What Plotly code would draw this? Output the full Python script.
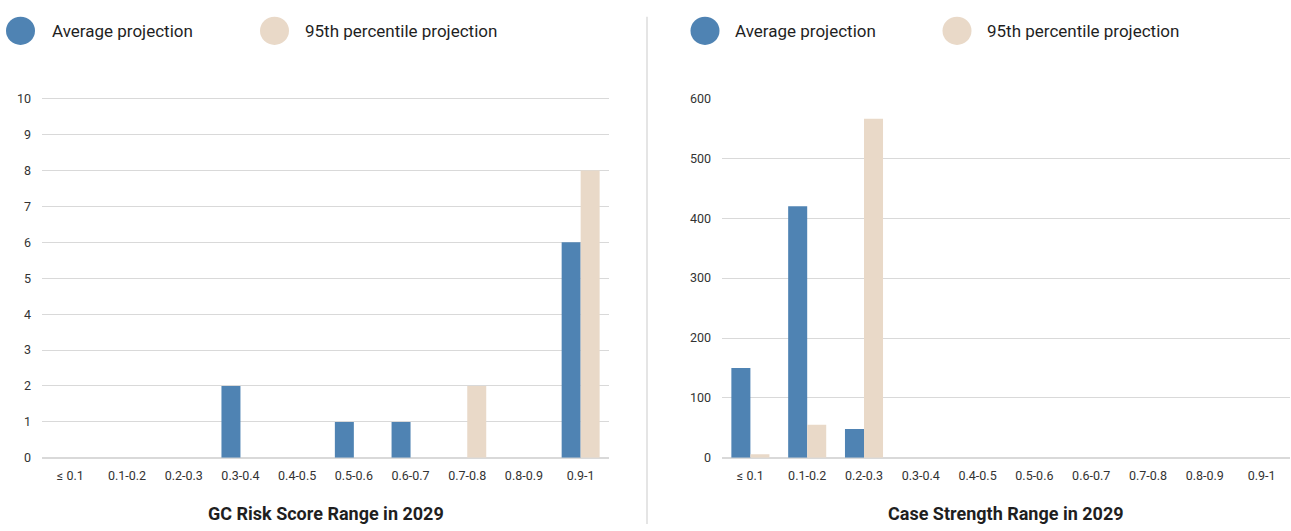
import plotly.graph_objects as go

# Bucket labels shared by both panels
categories = ["≤ 0.1", "0.1-0.2", "0.2-0.3", "0.3-0.4", "0.4-0.5",
              "0.5-0.6", "0.6-0.7", "0.7-0.8", "0.8-0.9", "0.9-1"]

# GC risk score distribution
risk_avg = [0, 0, 0, 2, 0, 1, 1, 0, 0, 6]
risk_p95 = [0, 0, 0, 0, 0, 0, 0, 2, 0, 8]

# Case strength distribution
strength_avg = [150, 420, 48, 0, 0, 0, 0, 0, 0, 0]
strength_p95 = [6, 55, 566, 0, 0, 0, 0, 0, 0, 0]

series_names = ["Average projection", "95th percentile projection"]

BLUE = "#4f83b3"
BEIGE = "#e9d9c8"
GRID = "#d9d9d9"
TEXT = "#1f1f1f"
FONT = "Roboto, Inter, Arial, sans-serif"

W, H = 1291, 531


def px_x(x):
    return x / W


def px_y(y):
    return 1 - y / H


fig = go.Figure()

for name, vals, color in [(series_names[0], risk_avg, BLUE),
                          (series_names[1], risk_p95, BEIGE)]:
    fig.add_trace(go.Bar(x=categories, y=vals, name=name, marker_color=color,
                         marker_line_width=0, xaxis="x", yaxis="y",
                         showlegend=False))

for name, vals, color in [(series_names[0], strength_avg, BLUE),
                          (series_names[1], strength_p95, BEIGE)]:
    fig.add_trace(go.Bar(x=categories, y=vals, name=name, marker_color=color,
                         marker_line_width=0, xaxis="x2", yaxis="y2",
                         showlegend=False))

y_dom = [px_y(463), px_y(93)]

common_x = dict(type="category", showgrid=False, zeroline=False, showline=False,
                ticks="", ticklabelstandoff=9,
                tickfont=dict(family=FONT, size=12.5, color="#333333"))
common_y = dict(showgrid=True, gridcolor=GRID, gridwidth=1, zeroline=True,
                zerolinecolor=GRID, zerolinewidth=1.5, showline=False, ticks="",
                ticklabelstandoff=10,
                tickfont=dict(family=FONT, size=12.5, color="#333333"))

fig.update_layout(
    width=W, height=H, autosize=False,
    margin=dict(l=0, r=0, t=0, b=0),
    paper_bgcolor="white", plot_bgcolor="white",
    barmode="group", bargap=0.33, bargroupgap=0,
    font=dict(family=FONT, color=TEXT),
    xaxis=dict(domain=[px_x(42), px_x(609)], anchor="y", **common_x),
    yaxis=dict(domain=y_dom, anchor="x", range=[0, 10.03], dtick=1, **common_y),
    xaxis2=dict(domain=[px_x(722), px_x(1290)], anchor="y2", **common_x),
    yaxis2=dict(domain=y_dom, anchor="x2", range=[0, 601.5], dtick=100, **common_y),
)

# Panel titles below each x axis
for cx, text in [((42 + 609) / 2, "GC Risk Score Range in 2029"),
                 ((722 + 1290) / 2, "Case Strength Range in 2029")]:
    fig.add_annotation(x=px_x(cx), y=px_y(520), xref="paper", yref="paper",
                       text=f"<b>{text}</b>", showarrow=False,
                       xanchor="center", yanchor="middle",
                       font=dict(family=FONT, size=18, color=TEXT))

# Divider between the two panels
fig.add_shape(type="line", xref="paper", yref="paper",
              x0=px_x(647), x1=px_x(647), y0=0, y1=px_y(10),
              line=dict(color="#dcdcdc", width=1.5))

# Legends drawn as circle swatches with labels
legend_items = [
    (20.5, 50, series_names[0], BLUE),
    (274.5, 303, series_names[1], BEIGE),
    (705, 733, series_names[0], BLUE),
    (957, 985, series_names[1], BEIGE),
]
for cx, tx, label, color in legend_items:
    r = 14.5
    fig.add_shape(type="circle", xref="paper", yref="paper",
                  x0=px_x(cx - r), x1=px_x(cx + r),
                  y0=px_y(24.5 + r), y1=px_y(24.5 - r),
                  fillcolor=color, line_width=0)
    fig.add_annotation(x=px_x(tx), y=px_y(24.5), xref="paper", yref="paper",
                       text=label, showarrow=False, xanchor="left",
                       yanchor="middle",
                       font=dict(family=FONT, size=17, color=TEXT))

fig.write_html("out.html")
